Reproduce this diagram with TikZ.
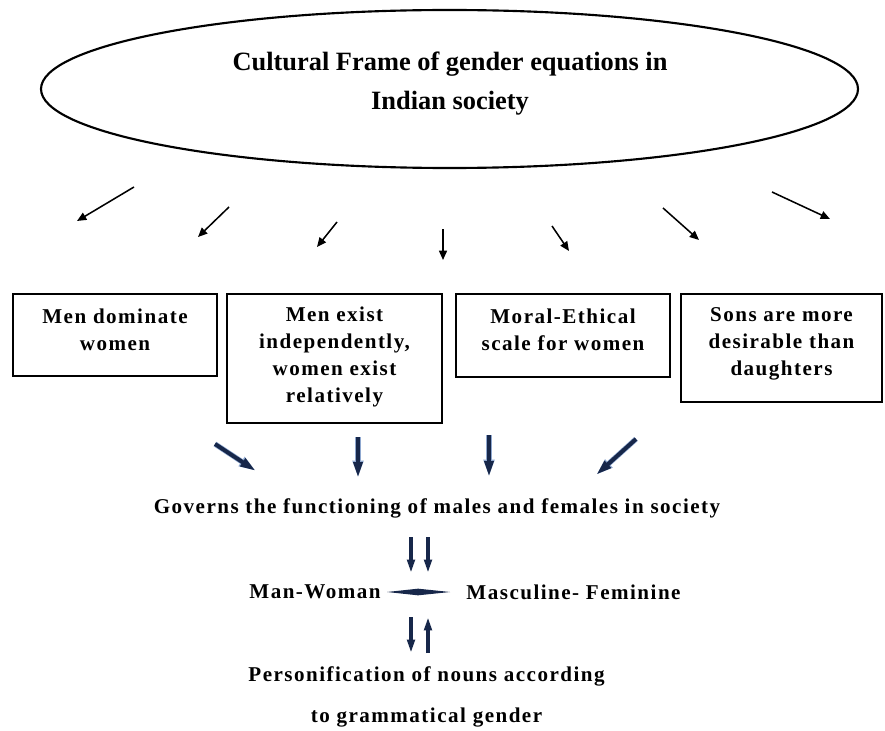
\documentclass[tikz,border=0pt]{standalone}
\usepackage{fontspec}
\setmainfont{Liberation Serif}
\newfontfamily\spaced[LetterSpace=7]{Liberation Serif}
\usetikzlibrary{arrows.meta,shapes.geometric}
\definecolor{navy}{HTML}{17274A}
\definecolor{halo}{HTML}{8FA8D0}
\tikzset{
  boxnode/.style={draw=black, line width=2.1pt, rectangle, inner sep=0pt},
  boxtext/.style={font=\spaced\bfseries\fontsize{15.8}{20.25}\selectfont, align=center, inner sep=0pt},
  plain/.style={font=\spaced\bfseries\fontsize{15.8}{20.25}\selectfont, inner sep=0pt},
  thinarrow/.style={draw=black, line width=1.15pt, -{Triangle[length=7pt,width=6pt]}},
  thickarrow/.style={draw=navy, line width=3pt, -{Triangle[length=12pt,width=6.5pt]},
     preaction={draw=halo, line width=4pt, -{Triangle[length=13pt,width=7.5pt]}}},
  pairarrow/.style={draw=navy, line width=2.8pt, -{Triangle[length=10pt,width=5.5pt]}},
}
\begin{document}
\begin{tikzpicture}[x=0.75pt,y=-0.75pt]
\useasboundingbox (0,0) rectangle (885,731);
\fill[white] (0,0) rectangle (885,731);

% ellipse
\node[draw=black, line width=1.6pt, ellipse, minimum width=612.75pt, minimum height=118.5pt, inner sep=0pt] (ell) at (449.5,89) {};
\node[font=\bfseries\fontsize{19.8}{29.25}\selectfont, align=center, inner sep=0pt] (title) at (450,83.5)
  {Cultural Frame of gender equations in\\Indian society};

% thin arrows
\coordinate (a1s) at (134,187); \coordinate (a1e) at (77,221);
\coordinate (a2s) at (229,207); \coordinate (a2e) at (198,237);
\coordinate (a3s) at (337,222); \coordinate (a3e) at (317,247);
\coordinate (a4s) at (443,229); \coordinate (a4e) at (443,260);
\coordinate (a5s) at (552,226); \coordinate (a5e) at (569,251);
\coordinate (a6s) at (663,208); \coordinate (a6e) at (699,240);
\coordinate (a7s) at (772,192); \coordinate (a7e) at (830,219);
\foreach \i in {1,...,7} {\draw[thinarrow] (a\i s) -- (a\i e);}

% boxes
\node[boxnode, minimum width=153pt, minimum height=61.5pt] (b1) at (115,335) {};
\node[boxnode, minimum width=161.25pt, minimum height=96.75pt] (b2) at (334.5,358.5) {};
\node[boxnode, minimum width=160.5pt, minimum height=62.25pt] (b3) at (563,335.5) {};
\node[boxnode, minimum width=150.75pt, minimum height=81pt] (b4) at (781.5,348) {};
\node[boxtext] (t1) at (115,330) {Men dominate\\women};
\node[boxtext] (t2) at (334.5,357) {Men exist\\independently,\\women exist\\relatively};
\node[boxtext] (t3) at (563,330) {Moral-Ethical\\scale for women};
\node[boxtext] (t4) at (781.5,343.5) {Sons are more\\desirable than\\daughters};

% thick arrows
\coordinate (c1s) at (215,444); \coordinate (c1e) at (256,471);
\coordinate (c2s) at (358,437); \coordinate (c2e) at (358,478);
\coordinate (c3s) at (489,435); \coordinate (c3e) at (489,477);
\coordinate (c4s) at (636,439); \coordinate (c4e) at (596,475);
\foreach \i in {1,...,4} {\draw[thickarrow] (c\i s) -- (c\i e);}

\node[plain] (gov) at (437,508) {Governs the functioning of males and females in society};

% pair arrows
\coordinate (d1s) at (411,537); \coordinate (d1e) at (411,573);
\coordinate (d2s) at (428,537); \coordinate (d2e) at (428,573);
\draw[pairarrow] (d1s) -- (d1e);
\draw[pairarrow] (d2s) -- (d2e);

\node[plain] (mw) at (315,592) {Man-Woman};
\node[plain] (mf) at (573.5,592) {Masculine- Feminine};
\coordinate (sl) at (387,592); \coordinate (sm) at (418,592); \coordinate (sr) at (450,592);
\fill[navy] (sl) -- ([yshift=-2.5]sm) -- (sr) -- ([yshift=2.5]sm) -- cycle;

\coordinate (e1s) at (411,617); \coordinate (e1e) at (411,653);
\coordinate (e2s) at (428,653); \coordinate (e2e) at (428,617);
\draw[pairarrow] (e1s) -- (e1e);
\draw[pairarrow] (e2s) -- (e2e);

\node[font=\spaced\bfseries\fontsize{15.8}{30.75}\selectfont, align=center, inner sep=0pt] (pers) at (426.5,697)
  {Personification of nouns according\\to grammatical gender};
\end{tikzpicture}
\end{document}
